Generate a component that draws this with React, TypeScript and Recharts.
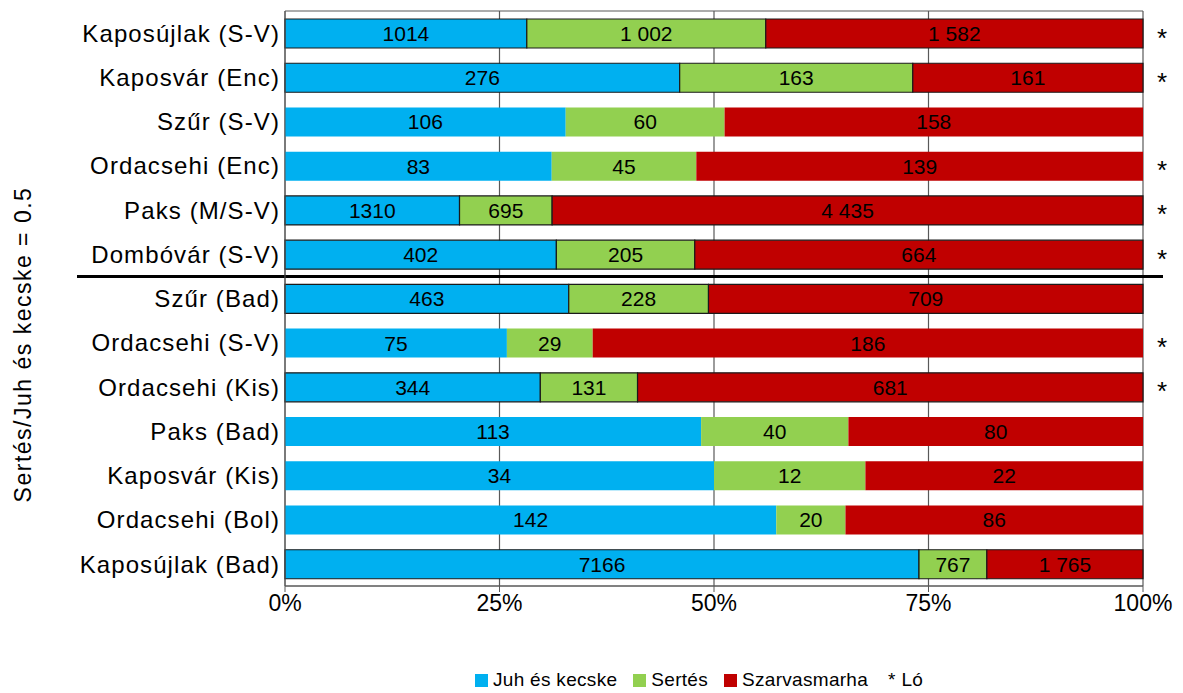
import React from "react";
import {
  BarChart,
  Bar,
  XAxis,
  YAxis,
  CartesianGrid,
  Legend,
  LabelList,
  Cell,
  ReferenceLine,
} from "recharts";

const categories = [
  "Kaposújlak (S-V)",
  "Kaposvár (Enc)",
  "Szűr (S-V)",
  "Ordacsehi (Enc)",
  "Paks (M/S-V)",
  "Dombóvár (S-V)",
  "Szűr (Bad)",
  "Ordacsehi (S-V)",
  "Ordacsehi (Kis)",
  "Paks (Bad)",
  "Kaposvár (Kis)",
  "Ordacsehi (Bol)",
  "Kaposújlak (Bad)",
];

const juhEsKecske = [1014, 276, 106, 83, 1310, 402, 463, 75, 344, 113, 34, 142, 7166];
const sertes = [1002, 163, 60, 45, 695, 205, 228, 29, 131, 40, 12, 20, 767];
const szarvasmarha = [1582, 161, 158, 139, 4435, 664, 709, 186, 681, 80, 22, 86, 1765];
// "*" = ló (horse) also present
const lo = ["*", "*", "", "*", "*", "*", "", "*", "*", "", "", "", ""];
// rows whose bars are drawn with a dark outline in the source
const outlined = [true, true, false, false, true, true, true, false, true, false, false, false, true];

const xTicks = [0, 0.25, 0.5, 0.75, 1];

const series = [
  { key: "juh", name: "Juh és kecske", color: "#00B0F0" },
  { key: "sertes", name: "Sertés", color: "#92D050" },
  { key: "szarvas", name: "Szarvasmarha", color: "#C00000" },
];

const data = categories.map((name, i) => ({
  name,
  juh: juhEsKecske[i],
  sertes: sertes[i],
  szarvas: szarvasmarha[i],
  lo: lo[i],
}));

const FONT = "'Liberation Sans', Arial, Helvetica, sans-serif";

const plain = (v: number) => String(v);
const spaced = (v: number) =>
  v >= 1000 ? `${Math.floor(v / 1000)} ${String(v % 1000).padStart(3, "0")}` : String(v);

const CategoryTick = (props: any) => {
  const { x, y, payload } = props;
  return (
    <text
      x={x - 3}
      y={y}
      dy="0.36em"
      textAnchor="end"
      fontSize={24}
      letterSpacing={1.1}
      fill="#000"
      fontFamily={FONT}
    >
      {payload.value}
    </text>
  );
};

const YTitle = (props: any) => {
  const vb = props.viewBox || { x: 0, y: 0, width: 0, height: 0 };
  const cx = vb.x + 23;
  const cy = vb.y + vb.height / 2 + 46;
  return (
    <text
      x={cx}
      y={cy}
      transform={`rotate(-90 ${cx} ${cy})`}
      textAnchor="middle"
      dy="0.36em"
      fontSize={23}
      letterSpacing={1.5}
      fill="#000"
      fontFamily={FONT}
    >
      Sertés/Juh és kecske = 0.5
    </text>
  );
};

const Asterisk = (props: any) => {
  const { x, y, width, height, value } = props;
  if (!value) return null;
  return (
    <text
      x={x + width + 19}
      y={y + height / 2 + 13}
      textAnchor="middle"
      fontSize={26}
      fill="#000"
      fontFamily={FONT}
    >
      {value}
    </text>
  );
};

const renderLegend = () => (
  <div
    style={{
      display: "flex",
      alignItems: "center",
      fontFamily: FONT,
      fontSize: 19,
      letterSpacing: 0.3,
      color: "#000",
      whiteSpace: "nowrap",
    }}
  >
    {series.map((s) => (
      <div key={s.key} style={{ display: "flex", alignItems: "center", marginRight: 16 }}>
        <span style={{ width: 13, height: 13, background: s.color, display: "inline-block", marginRight: 5 }} />
        <span>{s.name}</span>
      </div>
    ))}
    <span style={{ marginLeft: 4 }}>* Ló</span>
  </div>
);

export default function App() {
  return (
    <div style={{ position: "absolute", left: 0, top: 0, width: 1183, height: 693, background: "#fff" }}>
      <BarChart
        width={1183}
        height={693}
        data={data}
        layout="vertical"
        stackOffset="expand"
        margin={{ top: 11, right: 40, left: 0, bottom: 45 }}
        style={{ fontFamily: FONT }}
      >
        <CartesianGrid
          stroke="#595959"
          strokeWidth={1.2}
          horizontalCoordinatesGenerator={(p: any) => [p.offset.top, p.offset.top + p.offset.height]}
        />
        <XAxis
          type="number"
          domain={[0, 1]}
          ticks={xTicks}
          tickFormatter={(v: number) => `${Math.round(v * 100)}%`}
          stroke="#595959"
          tickSize={6}
          tickMargin={3}
          height={40}
          tick={{ fontSize: 23, fill: "#000" }}
        />
        <YAxis
          type="category"
          dataKey="name"
          width={285}
          tickLine={false}
          tickSize={0}
          stroke="#595959"
          tick={<CategoryTick />}
          interval={0}
          label={<YTitle />}
        />
        <Bar dataKey="juh" stackId="a" fill={series[0].color} barSize={29} isAnimationActive={false}>
          {data.map((_, i) => (
            <Cell key={i} stroke={outlined[i] ? "#1a1a1a" : "none"} strokeWidth={1.2} />
          ))}
          <LabelList dataKey="juh" position="center" formatter={plain as any} fill="#000" fontSize={21} />
        </Bar>
        <Bar dataKey="sertes" stackId="a" fill={series[1].color} barSize={29} isAnimationActive={false}>
          {data.map((_, i) => (
            <Cell key={i} stroke={outlined[i] ? "#1a1a1a" : "none"} strokeWidth={1.2} />
          ))}
          <LabelList dataKey="sertes" position="center" formatter={spaced as any} fill="#000" fontSize={21} />
        </Bar>
        <Bar dataKey="szarvas" stackId="a" fill={series[2].color} barSize={29} isAnimationActive={false}>
          {data.map((_, i) => (
            <Cell key={i} stroke={outlined[i] ? "#1a1a1a" : "none"} strokeWidth={1.2} />
          ))}
          <LabelList dataKey="szarvas" position="center" formatter={spaced as any} fill="#000" fontSize={21} />
          <LabelList dataKey="lo" content={<Asterisk />} />
        </Bar>
        <ReferenceLine
          y={categories[5]}
          position="end"
          ifOverflow="visible"
          shape={(p: any) => (
            <line x1={p.x1 - 208} x2={p.x2 + 20} y1={p.y1} y2={p.y2} stroke="#000" strokeWidth={3} />
          )}
        />
        <Legend
          verticalAlign="bottom"
          content={renderLegend}
          wrapperStyle={{ left: 475, bottom: 2, width: "auto" }}
        />
      </BarChart>
    </div>
  );
}
